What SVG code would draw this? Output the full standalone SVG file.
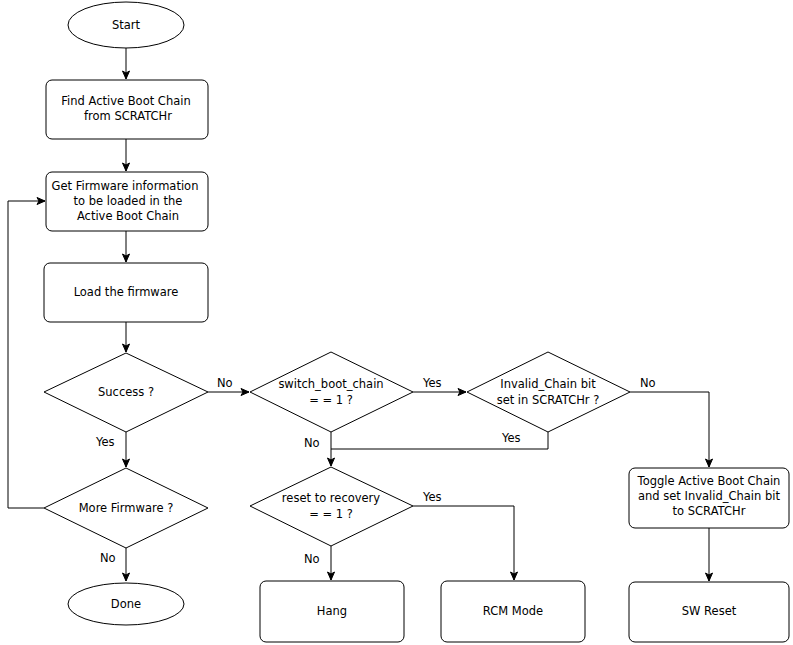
<svg xmlns="http://www.w3.org/2000/svg" width="793" height="645" viewBox="0 0 793 645">
<style>
.s{fill:#fff;stroke:#000;stroke-width:1}
.c{fill:none;stroke:#000;stroke-width:1}
text{font-family:"DejaVu Sans","Liberation Sans",sans-serif;font-size:11.5px;fill:#000}
.m{text-anchor:middle}
</style>
<defs>
<marker id="a" markerWidth="10" markerHeight="10" refX="9" refY="5" orient="auto" markerUnits="userSpaceOnUse">
<path d="M1,1.5 L9,5 L1,8.5 L3,5 z" fill="#000" stroke="#000" stroke-width="1"/>
</marker>
</defs>
<rect width="793" height="645" fill="#fff"/>
<g id="connectors">
<path class="c" d="M126,48 V79" marker-end="url(#a)"/>
<path class="c" d="M126,139 V171" marker-end="url(#a)"/>
<path class="c" d="M126,231 V262" marker-end="url(#a)"/>
<path class="c" d="M126,322 V352" marker-end="url(#a)"/>
<path class="c" d="M126,432 V467" marker-end="url(#a)"/>
<path class="c" d="M126,548 V581" marker-end="url(#a)"/>
<path class="c" d="M44,508 H8 V201 H45" marker-end="url(#a)"/>
<path class="c" d="M208,392 H249" marker-end="url(#a)"/>
<path class="c" d="M413,392 H466" marker-end="url(#a)"/>
<path class="c" d="M630,392 H709 V467" marker-end="url(#a)"/>
<path class="c" d="M548,432 V449 H331"/>
<path class="c" d="M331,432 V466" marker-end="url(#a)"/>
<path class="c" d="M413,506 H514 V580" marker-end="url(#a)"/>
<path class="c" d="M331,546 V580" marker-end="url(#a)"/>
<path class="c" d="M709,528 V581" marker-end="url(#a)"/>
<text x="217" y="387">No</text>
<text x="96" y="446">Yes</text>
<text x="100" y="562">No</text>
<text x="423" y="387">Yes</text>
<text x="304" y="447">No</text>
<text x="502" y="442">Yes</text>
<text x="640" y="387">No</text>
<text x="423" y="501">Yes</text>
<text x="304" y="563">No</text>
</g>
<g id="start"><ellipse class="s" cx="126" cy="25" rx="58" ry="23"/><text class="m" x="126" y="29">Start</text></g>
<g id="find"><rect class="s" x="46" y="80" width="162" height="59" rx="6"/><text class="m" x="126" y="105">Find Active Boot Chain</text><text class="m" x="128" y="120">from SCRATCHr</text></g>
<g id="getfw"><rect class="s" x="46" y="172" width="162" height="59" rx="6"/><text class="m" x="125" y="190">Get Firmware information</text><text class="m" x="128" y="205">to be loaded in the</text><text class="m" x="128" y="220">Active Boot Chain</text></g>
<g id="load"><rect class="s" x="44" y="263" width="164" height="59" rx="6"/><text class="m" x="126" y="296">Load the firmware</text></g>
<g id="success"><polygon class="s" points="126,353 208,392 126,432 44,392"/><text class="m" x="126" y="396">Success ?</text></g>
<g id="more"><polygon class="s" points="126,468 208,508 126,548 44,508"/><text class="m" x="126" y="512">More Firmware ?</text></g>
<g id="done"><ellipse class="s" cx="126" cy="604" rx="58" ry="21"/><text class="m" x="126" y="608">Done</text></g>
<g id="switch"><polygon class="s" points="331,352 413,392 331,432 250,392"/><text class="m" x="331" y="388">switch_boot_chain</text><text class="m" x="331" y="404">= =  1 ?</text></g>
<g id="invalid"><polygon class="s" points="548,352 630,392 548,432 467,392"/><text class="m" x="548" y="388">Invalid_Chain bit</text><text class="m" x="548" y="404">set in SCRATCHr ?</text></g>
<g id="reset"><polygon class="s" points="331,467 413,506 331,546 250,506"/><text class="m" x="331" y="502">reset to recovery</text><text class="m" x="331" y="518">= =  1 ?</text></g>
<g id="toggle"><rect class="s" x="629" y="468" width="160" height="60" rx="6"/><text class="m" x="709" y="485">Toggle Active Boot Chain</text><text class="m" x="709" y="500">and set Invalid_Chain bit</text><text class="m" x="709" y="515">to SCRATCHr</text></g>
<g id="hang"><rect class="s" x="260" y="581" width="144" height="61" rx="6"/><text class="m" x="332" y="615">Hang</text></g>
<g id="rcm"><rect class="s" x="441" y="581" width="144" height="61" rx="6"/><text class="m" x="513" y="615">RCM Mode</text></g>
<g id="swreset"><rect class="s" x="629" y="582" width="160" height="60" rx="6"/><text class="m" x="709" y="615">SW Reset</text></g>
</svg>
